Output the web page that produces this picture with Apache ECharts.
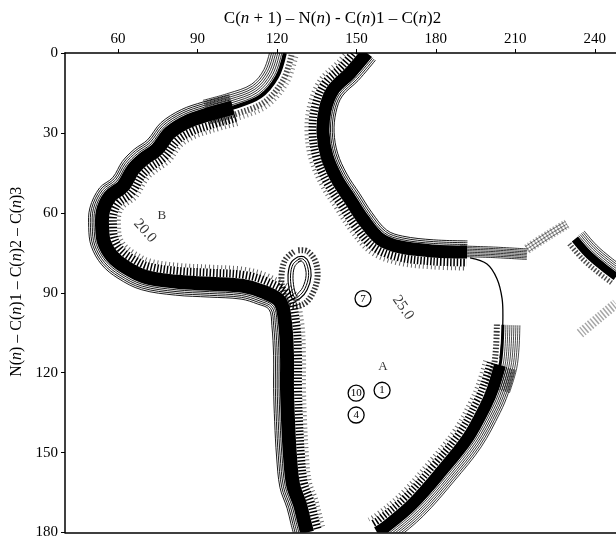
<!DOCTYPE html>
<html><head><meta charset="utf-8">
<script src="https://cdn.jsdelivr.net/npm/echarts@6/dist/echarts.min.js"></script>
<style>html,body{margin:0;padding:0;background:#fff}#c{width:616px;height:540px}</style>
</head><body><div id="c"></div>
<script>
// ---- tick labels ----
const xTicks = [60, 90, 120, 150, 180, 210, 240];
const yTicks = [0, 30, 60, 90, 120, 150, 180];

// ---- contour bands (x = C(n+1)-N(n)-C(n)1-C(n)2, y = N(n)-C(n)1-C(n)2-C(n)3) ----
const bandWestUpper = [[123.0,0],[120.0,9.0],[113.6,16.4],[103.4,20.5],[93.6,23.2]];
const bandWestMain = [[103.4,20.5],[93.6,23.2],[86.1,25.8],[79.6,29.9],[74.7,36.2],[69.4,40.0],[65.7,43.7],[61.9,50.0],[57.0,53.8],[54.3,59.4],[54.0,65.3],[54.7,70.9],[57.7,76.2],[62.7,80.3],[70.2,84.0],[82.3,85.9],[94.7,86.6],[107.2,87.4],[114.7,89.6],[121.2,93.4],[123.1,101.6],[123.8,113.5],[123.8,125.8],[124.2,138.2],[124.9,150.9],[126.1,162.1],[128.7,169.5],[130.2,175.5],[131.4,180]];
const bandNorthEast = [[154.0,0],[147.6,7.5],[141.2,13.8],[138.2,21.3],[137.4,29.9],[138.9,38.8],[142.7,47.4],[147.6,54.9],[152.5,62.4],[158.9,69.8],[166.5,72.8],[178.9,74.3],[191.8,74.7]];
const bandNorthEastTail = [[189.1,74.7],[201.6,75.1],[214.4,75.8]];
const contour25 = [[192.9,76.9],[199.3,79.2],[203.1,84.8],[205.0,92.2],[205.3,99.7],[205.0,107.2],[204.2,114.6]];
const bandSouthEastUpper = [[205.3,102.0],[205.0,110.0],[204.2,117.2],[201.6,125.8]];
const bandSouthEast = [[204.2,117.2],[201.6,125.8],[198.9,132.2],[192.1,144.5],[182.3,156.8],[171.0,169.5],[160.8,178.1],[157.8,180]];
const loopContour = [[128.0,76.5],[125.3,78.8],[124.2,83.3],[124.6,88.5],[126.1,92.6],[128.7,92.2],[131.4,88.9],[132.9,83.6],[132.1,78.8],[130.2,76.5],[128.0,76.5]];
const bandEastEdge = [[248.0,84.0],[243.1,80.3],[237.4,75.4],[232.5,69.8]];
const bandEastFaint = [[214.4,73.6],[223.1,68.0],[229.5,64.2]];
const bandEastLowerFaint = [[234.4,105.3],[242.0,99.0],[248.0,94.1]];

// ---- marked conformations ----
const siteNames = ['7', '1', '10', '4'];
const siteX = [152.5, 159.7, 149.9, 149.9];
const siteY = [92.2, 126.6, 127.7, 135.9];

// ---- region and level labels ----
const regionNames = ['B', 'A'];
const regionX = [76.6, 160.0];
const regionY = [60.9, 117.6];
const levelNames = ['20.0', '25.0'];
const levelX = [70.2, 167.6];
const levelY = [66.8, 95.6];

const F = '"Liberation Serif","Times New Roman",serif';

// drawing styles per band (side: which normal points to the low-energy interior)
const bands = [
  {pts: bandWestUpper, side: -1, core: 4, hatch: {off: 7, w: 6, a: 0.7}, dots: {off: 12, w: 4, a: 0.5}, fringe: [-3,-5,-7,-9,-11,-13,-15], fw: 0.8},
  {pts: bandWestMain, side: -1, core: 14, hatch: {off: 11, w: 8, a: 1}, dots: {off: 17, w: 4, a: 0.6}, fringe: [-8,-9.8,-11.6,-13.4], fw: 0.9},
  {pts: bandNorthEast, side: 1, core: 13, hatch: {off: 10.5, w: 8, a: 1}, dots: {off: 16.5, w: 4, a: 0.6}, fringe: [-7.5,-9.3,-11.1], fw: 0.9},
  {pts: bandNorthEastTail, side: 1, core: 0, hatch: null, dots: null, fringe: [-6,-4.5,-3,-1.5,0,1.5,3,4.5], fw: 0.8},
  {pts: contour25, side: 1, core: 1.3, hatch: null, dots: null, fringe: [], fw: 0},
  {pts: bandSouthEastUpper, side: 1, core: 3, hatch: {off: 6, w: 6, a: 0.8}, dots: null, fringe: [-3,-5,-7,-9,-11,-13,-15,-17], fw: 0.7},
  {pts: bandSouthEast, side: 1, core: 12, hatch: {off: 10, w: 7, a: 1}, dots: {off: 15.5, w: 4, a: 0.6}, fringe: [-7,-8.8,-10.6,-12.4,-14.2,-16], fw: 0.8},
  {pts: loopContour, side: 1, core: 1.2, hatch: {off: 6.5, w: 6, a: 0.8}, dots: null, fringe: [-2.5,-5], fw: 1},
  {pts: bandEastEdge, side: -1, core: 8, hatch: {off: 7.5, w: 5, a: 0.7}, dots: null, fringe: [-5,-6.8,-8.6,-10.4,-12.2], fw: 0.8},
  {pts: bandEastFaint, side: 1, core: 0, hatch: {off: 0, w: 10, a: 0.35}, dots: null, fringe: [-3,0,3], fw: 0.5},
  {pts: bandEastLowerFaint, side: 1, core: 0, hatch: {off: 0, w: 10, a: 0.35}, dots: null, fringe: [], fw: 0}
];

function offsetPts(P, d) {
  return P.map((p, i) => {
    const a = P[Math.max(i - 1, 0)], c = P[Math.min(i + 1, P.length - 1)];
    const dx = c[0] - a[0], dy = c[1] - a[1];
    const L = Math.hypot(dx, dy) || 1;
    return [p[0] - dy / L * d, p[1] + dx / L * d];
  });
}

function renderBand(params, api) {
  const b = bands[api.value(2)];
  const P = b.pts.map(p => api.coord(p));
  const kids = [];
  const sm = 0.35;
  if (b.dots) {
    kids.push({type: 'polyline', shape: {points: offsetPts(P, b.side * b.dots.off), smooth: sm},
      style: {stroke: '#000', lineWidth: b.dots.w, fill: null, lineDash: [1, 3], opacity: b.dots.a}});
  }
  if (b.hatch) {
    kids.push({type: 'polyline', shape: {points: offsetPts(P, b.side * b.hatch.off), smooth: sm},
      style: {stroke: '#000', lineWidth: b.hatch.w, fill: null, lineDash: [1.5, 1.8], opacity: b.hatch.a}});
  }
  b.fringe.forEach(d => {
    kids.push({type: 'polyline', shape: {points: offsetPts(P, b.side * d), smooth: sm},
      style: {stroke: '#000', lineWidth: b.fw, fill: null}});
  });
  if (b.core > 0) {
    kids.push({type: 'polyline', shape: {points: P, smooth: sm},
      style: {stroke: '#000', lineWidth: b.core, fill: null, lineJoin: 'round', lineCap: 'butt'}});
  }
  return {type: 'group', children: kids};
}

const chart = echarts.init(document.getElementById('c'), null, {renderer: 'canvas'});
const option = {
  animation: false,
  backgroundColor: '#fff',
  grid: {left: 65, top: 53, right: 0, bottom: 5},
  xAxis: [{
    type: 'value', position: 'top', min: 40, max: 248,
    name: 'C({i|n} + 1) – N({i|n}) - C({i|n})1 – C({i|n})2',
    nameLocation: 'middle', nameGap: 25,
    nameTextStyle: {fontFamily: F, fontSize: 17, color: '#000', padding: [0, 16, 0, 0],
      rich: {i: {fontFamily: F, fontSize: 17, fontStyle: 'italic', color: '#000'}}},
    axisLine: {onZero: false, lineStyle: {color: '#000', width: 1.5}},
    axisTick: {customValues: xTicks, length: 4, lineStyle: {color: '#000', width: 1}},
    axisLabel: {customValues: xTicks, color: '#000', fontFamily: F, fontSize: 15, margin: 6},
    splitLine: {show: false}
  }, {
    type: 'value', position: 'bottom', min: 40, max: 248,
    axisLine: {show: true, onZero: false, lineStyle: {color: '#000', width: 1.5}},
    axisTick: {show: false}, axisLabel: {show: false}, splitLine: {show: false}
  }],
  yAxis: {
    type: 'value', inverse: true, min: 0, max: 180,
    name: 'N({i|n}) – C({i|n})1 – C({i|n})2 – C({i|n})3',
    nameLocation: 'middle', nameRotate: 90, nameGap: 38,
    nameTextStyle: {fontFamily: F, fontSize: 16, color: '#000', padding: [0, 0, 0, 22],
      rich: {i: {fontFamily: F, fontSize: 16, fontStyle: 'italic', color: '#000'}}},
    axisLine: {show: true, onZero: false, lineStyle: {color: '#000', width: 1.5}},
    axisTick: {show: true, customValues: yTicks, length: 4, lineStyle: {color: '#000', width: 1}},
    axisLabel: {customValues: yTicks, color: '#000', fontFamily: F, fontSize: 15, margin: 7},
    splitLine: {show: false}
  },
  series: [
    {
      type: 'custom', name: 'contours', xAxisIndex: 0, yAxisIndex: 0, clip: true, silent: true,
      renderItem: renderBand,
      encode: {x: 0, y: 1},
      data: bands.map((b, i) => [b.pts[0][0], b.pts[0][1], i])
    },
    {
      type: 'scatter', name: 'sites', xAxisIndex: 0, symbol: 'circle', symbolSize: 16, silent: true,
      itemStyle: {color: '#fff', borderColor: '#000', borderWidth: 1.3, opacity: 1},
      label: {show: true, position: 'inside', formatter: p => p.name, fontFamily: F, fontSize: 11, color: '#000'},
      data: siteNames.map((n, i) => ({name: n, value: [siteX[i], siteY[i]]}))
    },
    {
      type: 'scatter', name: 'regions', xAxisIndex: 0, symbolSize: 1, silent: true,
      itemStyle: {color: 'rgba(255,255,255,0)'},
      label: {show: true, position: 'inside', formatter: p => p.name, fontFamily: F, fontSize: 13, color: '#000'},
      data: regionNames.map((n, i) => ({name: n, value: [regionX[i], regionY[i]]}))
    },
    {
      type: 'scatter', name: 'levels', xAxisIndex: 0, symbolSize: 1, silent: true,
      itemStyle: {color: 'rgba(255,255,255,0)'},
      label: {show: true, position: 'inside', formatter: p => p.name, fontFamily: F, fontSize: 15, color: '#000'},
      data: levelNames.map((n, i) => ({name: n, value: [levelX[i], levelY[i]], label: {rotate: i === 0 ? -48 : -55}}))
    }
  ]
};
chart.setOption(option);
</script></body></html>
